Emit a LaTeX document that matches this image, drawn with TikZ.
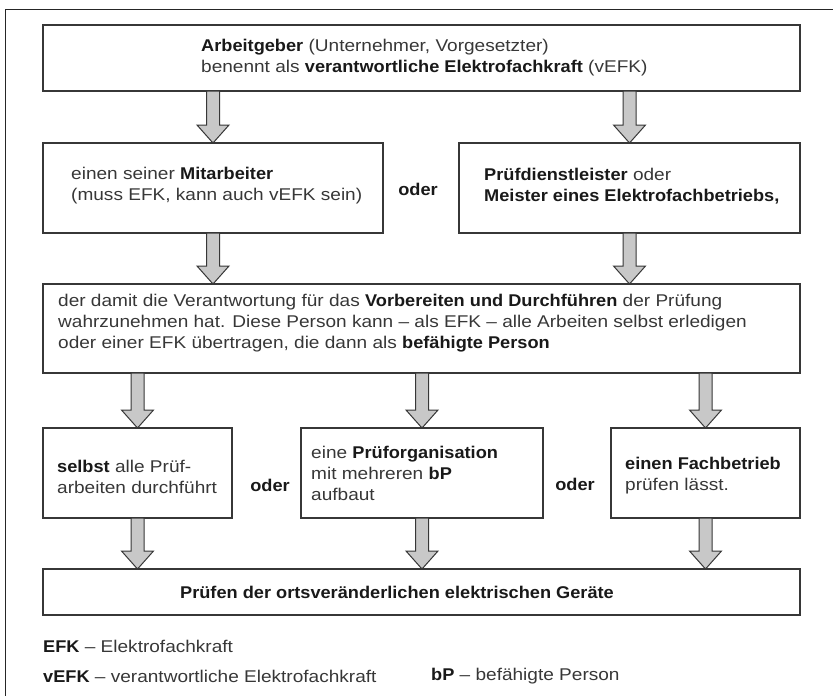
\documentclass[tikz,border=0pt]{standalone}
\usepackage{fontspec}
\setmainfont{Liberation Sans}[UprightFeatures={FakeStretch=1.12}, BoldFeatures={FakeStretch=1.07}]
\usetikzlibrary{calc}
\definecolor{arrfill}{RGB}{200,200,200}
\definecolor{linegray}{RGB}{55,55,55}
\definecolor{txt}{RGB}{55,55,55}
\newcommand\bt[1]{{\bfseries\color{black!90}#1}}
\newcommand\boxat[5]{\node[box, minimum width={#4-#2}, minimum height={#5-#3}] (#1) at ({(#2+#4)/2},{(#3+#5)/2}) {};}
\newcommand\barr[2]{\path[barrow] let \p1=#1, \p2=#2 in
  (\x1-6.5pt,\y1) -- (\x1+6.5pt,\y1) -- (\x1+6.5pt,\y2+18pt) -- (\x1+16pt,\y2+18pt)
  -- (\x2,\y2) -- (\x1-16pt,\y2+18pt) -- (\x1-6.5pt,\y2+18pt) -- cycle;}
\begin{document}
\begin{tikzpicture}[x=1pt,y=-1pt,
  box/.style={draw=linegray, line width=1.3pt, inner sep=0pt, outer sep=0pt},
  txtnode/.style={inner sep=0pt, align=left, anchor=west, text=txt, font=\fontsize{17}{21}\selectfont},
  oder/.style={inner sep=0pt, text=black!90, font=\fontsize{17}{21}\selectfont\bfseries},
  barrow/.style={draw=linegray, fill=arrfill, line width=1pt, line join=miter},
]
\useasboundingbox (0,0) rectangle (833,696);
\draw[line width=1pt, black!85] (833,9) -- (5,9) -- (5,696);

\boxat{b1}{43}{25}{800}{91}
\boxat{b2}{43}{143}{383}{233}
\boxat{b3}{459}{143}{800}{233}
\boxat{b4}{43}{284}{800}{373}
\boxat{b5}{43}{428}{232}{518}
\boxat{b6}{301}{428}{543}{518}
\boxat{b7}{611}{428}{800}{518}
\boxat{b8}{43}{569}{800}{615}

\barr{(b2.north |- b1.south)}{(b2.north)}
\barr{(b3.north |- b1.south)}{(b3.north)}
\barr{(b2.south)}{(b2.south |- b4.north)}
\barr{(b3.south)}{(b3.south |- b4.north)}
\barr{(b5.north |- b4.south)}{(b5.north)}
\barr{(b6.north |- b4.south)}{(b6.north)}
\barr{(b7.north |- b4.south)}{(b7.north)}
\barr{(b5.south)}{(b5.south |- b8.north)}
\barr{(b6.south)}{(b6.south |- b8.north)}
\barr{(b7.south)}{(b7.south |- b8.north)}

\node[txtnode] (t1) at (201,58) {\bt{Arbeitgeber} (Unternehmer, Vorgesetzter)\\benennt als \bt{verantwortliche Elektrofachkraft} (vEFK)};
\node[txtnode] (t2) at (71,186) {einen seiner \bt{Mitarbeiter}\\(muss EFK, kann auch vEFK sein)};
\node[txtnode] (t3) at (484,186) {\bt{Prüfdienstleister} oder\\\bt{Meister eines Elektrofachbetriebs,}};
\node[txtnode] (t4) at (58,323) {der damit die Verantwortung für das \bt{Vorbereiten und Durchführen} der Prüfung\\wahrzunehmen hat. Diese Person kann – als EFK – alle Arbeiten selbst erledigen\\oder einer EFK übertragen, die dann als \bt{befähigte Person}};
\node[txtnode] (t5) at (57,476.5) {\bt{selbst} alle Prüf-\\arbeiten durchführt};
\node[txtnode] (t6) at (311,473) {eine \bt{Prüforganisation}\\mit mehreren \bt{bP}\\aufbaut};
\node[txtnode] (t7) at (625,475.5) {\bt{einen Fachbetrieb}\\prüfen lässt.};
\node[oder] (t8) at (397,592) {Prüfen der ortsveränderlichen elektrischen Geräte};

\node[oder] (o1) at (418,189) {oder};
\node[oder] (o2) at (270,485) {oder};
\node[oder] (o3) at (575,484) {oder};

\node[txtnode] (l1) at (43,646) {\bt{EFK} – Elektrofachkraft};
\node[txtnode] (l2) at (43,676) {\bt{vEFK} – verantwortliche Elektrofachkraft};
\node[txtnode] (l3) at (431,676) {\bt{bP} – befähigte Person};
\end{tikzpicture}
\end{document}
